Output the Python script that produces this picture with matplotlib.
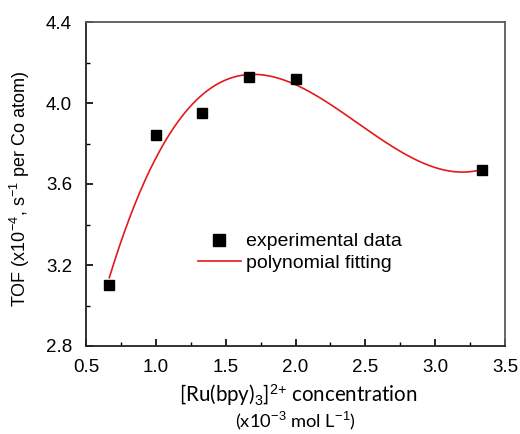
import matplotlib
matplotlib.use("Agg")
import matplotlib.pyplot as plt
import numpy as np
from matplotlib.ticker import MultipleLocator, FormatStrFormatter

plt.rcParams.update({
    "font.family": ["Liberation Sans", "DejaVu Sans"],
    "mathtext.fontset": "custom",
    "mathtext.rm": "Liberation Sans",
    "mathtext.it": "Liberation Sans",
    "font.size": 13,
})

W, H = 520, 434

# Ru(bpy)3 concentration (x1e-3 mol/L) and TOF (x1e-4 s^-1 per Co atom)
conc = [0.667, 1.0, 1.333, 1.667, 2.0, 3.333]
tof = [3.10, 3.84, 3.95, 4.13, 4.12, 3.67]

# cubic polynomial fit through the measurements
coef = np.polyfit(conc, tof, 3)
xf = np.linspace(min(conc), max(conc), 300)
yf = np.polyval(coef, xf)

fig = plt.figure(figsize=(W / 100, H / 100), dpi=100)
ax = fig.add_axes([86 / W, 1 - 346 / H, (505 - 86) / W, (346 - 22) / H])

ax.plot(conc, tof, "s", color="black", markersize=6.5, label="experimental data", zorder=3)
ax.plot(xf, yf, "-", color="#e3191c", linewidth=1.2, label="polynomial fitting")

ax.set_xlim(0.5, 3.5)
ax.set_ylim(2.8, 4.4)
ax.xaxis.set_major_locator(MultipleLocator(0.5))
ax.xaxis.set_minor_locator(MultipleLocator(0.25))
ax.yaxis.set_major_locator(MultipleLocator(0.4))
ax.yaxis.set_minor_locator(MultipleLocator(0.2))
ax.xaxis.set_major_formatter(FormatStrFormatter("%.1f"))
ax.yaxis.set_major_formatter(FormatStrFormatter("%.1f"))
ax.tick_params(which="both", direction="in", top=False, right=False)
ax.tick_params(which="major", length=5, width=1.2, labelsize=13.5)
ax.tick_params(which="minor", length=3, width=1.0)
ax.xaxis.set_tick_params(which="major", pad=9)
ax.yaxis.set_tick_params(which="major", pad=10)
for side in ["left", "bottom"]:
    ax.spines[side].set_linewidth(1.3)
    ax.spines[side].set_color("#222222")
for side in ["top", "right"]:
    ax.spines[side].set_linewidth(1.3)
    ax.spines[side].set_color("#5a5a5a")

ax.set_ylabel("TOF (x10$^{-4}$, s$^{-1}$ per Co atom)", fontsize=13)
ax.yaxis.set_label_coords((32 - 86) / 419, 0.485)

# two-line x label, main text in a Calibri-like face
fig.text(298 / W, 1 - 395 / H, "[Ru(bpy)$_3$]$^{2{+}}$ concentration",
         family=["Lato", "DejaVu Sans"], fontsize=14.8, ha="center", va="center")
fig.text(295 / W, 1 - 421 / H, "(x10$^{-3}$ mol L$^{-1}$)",
         family=["Lato", "DejaVu Sans"], fontsize=13.2, ha="center", va="center")

ax.legend(loc="upper left", bbox_to_anchor=(188 / W, 1 - 223 / H),
          bbox_transform=fig.transFigure, frameon=False, borderpad=0,
          fontsize=14, handlelength=2.2, handletextpad=0.3, labelspacing=0.2,
          markerscale=1.25)

fig.savefig("out.png", dpi=100)
